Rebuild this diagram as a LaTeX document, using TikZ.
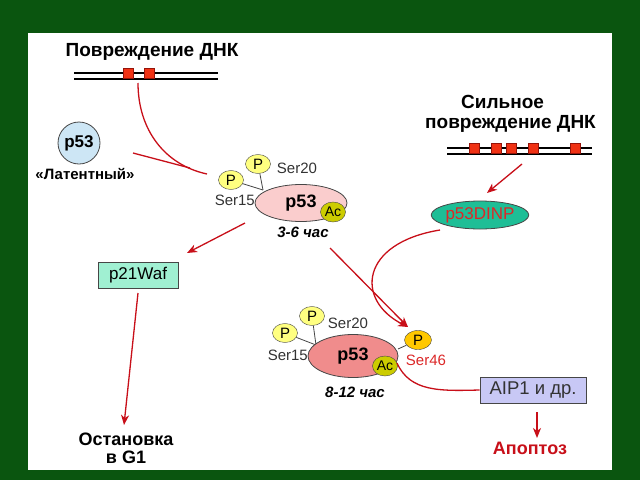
\documentclass[tikz,border=0pt]{standalone}
\usepackage{fontspec}
\setmainfont{Liberation Sans}
\usetikzlibrary{arrows.meta,shapes.geometric}
\definecolor{bggreen}{RGB}{10,85,15}
\definecolor{arrred}{RGB}{200,15,25}
\definecolor{edge}{RGB}{70,70,70}
\definecolor{pyellow}{RGB}{255,255,128}
\definecolor{acol}{RGB}{204,204,0}
\definecolor{porange}{RGB}{255,200,0}
\definecolor{latblue}{RGB}{205,230,245}
\definecolor{pinkA}{RGB}{250,205,205}
\definecolor{pinkB}{RGB}{240,140,140}
\definecolor{mint}{RGB}{160,240,210}
\definecolor{lav}{RGB}{200,200,245}
\definecolor{teal}{RGB}{30,190,150}
\definecolor{sqred}{RGB}{240,50,20}
\definecolor{sqedge}{RGB}{150,20,10}
\definecolor{txtred}{RGB}{220,40,40}
\tikzset{
 lbl/.style={font=\fontsize{15}{17}\selectfont, inner sep=0pt, text=black!80},
 ttl/.style={font=\bfseries\fontsize{19}{21}\selectfont, inner sep=0pt},
 hrs/.style={font=\bfseries\itshape\fontsize{15}{17}\selectfont, inner sep=0pt},
 pc/.style={ellipse, draw=edge, fill=pyellow, minimum width=25pt, minimum height=19pt, inner sep=0pt, font=\fontsize{15}{15}\selectfont},
 acc/.style={ellipse, draw=edge, fill=acol, minimum width=25pt, minimum height=20pt, inner sep=0pt, font=\fontsize{14}{14}\selectfont},
 prot/.style={ellipse, draw=edge, line width=0.8pt, inner sep=0pt, font=\bfseries\fontsize{18}{18}\selectfont},
 box/.style={draw=edge, line width=0.8pt, inner sep=0pt, font=\fontsize{17}{17}\selectfont},
 arr/.style={draw=arrred, line width=1.3pt, -{Stealth[length=10pt,width=8pt,inset=3pt]}},
 link/.style={draw=arrred, line width=1.3pt},
 stick/.style={draw=edge, line width=0.8pt},
 dnaline/.style={draw=black, line width=1.2pt},
 dnasq/.style={draw=sqedge, fill=sqred, minimum size=10pt, inner sep=0pt},
}
\begin{document}
\begin{tikzpicture}[x=1pt,y=-1pt]
\useasboundingbox (0,0) rectangle (640,480);
\fill[bggreen] (0,0) rectangle (640,480);
\fill[white] (28,33) rectangle (612,470);

% DNA damage 1
\node[ttl] (t1) at (152,52) {Повреждение ДНК};
\draw[dnaline] (74,73) -- (218,73);
\draw[dnaline] (74,79) -- (218,79);
\node[dnasq] (s1) at (128,73.5) {};
\node[dnasq] (s2) at (149,73.5) {};

% strong DNA damage
\node[ttl, align=left, anchor=west, font=\bfseries\fontsize{19}{20}\selectfont] (t2) at (425,114) {\hspace*{36pt}Сильное\\повреждение ДНК};
\draw[dnaline] (447,148) -- (592,148);
\draw[dnaline] (447,154) -- (592,154);
\foreach \x [count=\i] in {474,496,511,533,575}
  \node[dnasq] (q\i) at (\x,148) {};

% latent p53
\node[circle, draw=edge, line width=0.8pt, fill=latblue, minimum size=42pt, inner sep=0pt, font=\bfseries\fontsize{17}{17}\selectfont] (lat) at (79,143) {p53};
\node[font=\bfseries\fontsize{15}{17}\selectfont, inner sep=0pt] (latl) at (85,174) {«Латентный»};

% complex 1
\node[pc] (c1p1) at (231,180) {P};
\node[pc] (c1p2) at (258,164) {P};
\draw[stick] (c1p1) -- (263,190) coordinate (c1j);
\draw[stick] (c1p2) -- (c1j);
\node[prot, fill=pinkA, minimum width=92pt, minimum height=37pt] (c1) at (301,203) {p53};
\node[acc] (c1ac) at (333,212) {Ac};
\node[lbl] (c1s20) at (297,168) {Ser20};
\node[lbl, anchor=east] (c1s15) at (255,200) {Ser15};
\node[hrs] (c1h) at (303,232) {3-6 час};

% complex 2
\node[pc] (c2p1) at (285,333) {P};
\node[pc] (c2p2) at (312,316) {P};
\node[pc, fill=porange, minimum width=27pt] (c2p3) at (418,340) {P};
\draw[stick] (c2p1) -- (316,345) coordinate (c2j);
\draw[stick] (c2p2) -- (c2j);
\draw[stick] (c2p3) -- (398,349);
\node[prot, fill=pinkB, minimum width=90pt, minimum height=43pt] (c2) at (353,356) {p53};
\node[acc] (c2ac) at (385,366) {Ac};
\node[lbl] (c2s20) at (348,323) {Ser20};
\node[lbl, anchor=east] (c2s15) at (308,355) {Ser15};
\node[lbl, text=txtred] (c2s46) at (426,360) {Ser46};
\node[hrs] (c2h) at (355,392) {8-12 час};

% p53DINP
\node[ellipse, draw=edge, line width=0.8pt, fill=teal, minimum width=97pt, minimum height=28pt, inner sep=0pt, text=txtred, font=\fontsize{17}{17}\selectfont] (dinp) at (480,215) {p53DINP};

% boxes
\node[box, fill=mint, minimum width=80pt, minimum height=26pt] (p21) at (138,275) {p21Waf};
\node[box, fill=lav, minimum width=106pt, minimum height=26pt, text=black!80, font=\fontsize{18.5}{18}\selectfont] (aip) at (533,390) {AIP1 и др.};

% outcomes
\node[ttl, align=center, font=\bfseries\fontsize{18}{18}\selectfont] (stop) at (126,448) {Остановка\\в G1};
\node[ttl, text=arrred, font=\bfseries\fontsize{18}{18}\selectfont] (apo) at (530,448) {Апоптоз};

% connectors
\coordinate (d1) at (138,83);
\coordinate (m1) at (207,174);
\coordinate (l1) at (133,153);
\draw[link] (d1) .. controls (138,130) and (165,165) .. (m1);
\draw[link] (l1) -- (190,168);

\coordinate (a1s) at (245,223);
\coordinate (a1e) at (187,253);
\draw[arr] (a1s) -- (a1e);

\coordinate (a2s) at (330,248);
\coordinate (a2e) at (408,327);
\draw[arr] (a2s) -- (a2e);

\coordinate (dinps) at (440,230);
\draw[arr] (dinps) .. controls (360,243) and (355,300) .. (a2e);

\coordinate (q0) at (522,164);
\coordinate (q0e) at (487,193);
\draw[arr] (q0) -- (q0e);

\coordinate (p21s) at (138,293);
\coordinate (p21e) at (124,425);
\draw[arr] (p21s) -- (p21e);

\coordinate (acs) at (397,363);
\draw[link] (acs) .. controls (410,392) and (440,391) .. (aip.west);

\coordinate (aips) at (537,412);
\coordinate (aipe) at (537,438);
\draw[arr] (aips) -- (aipe);
\end{tikzpicture}
\end{document}
